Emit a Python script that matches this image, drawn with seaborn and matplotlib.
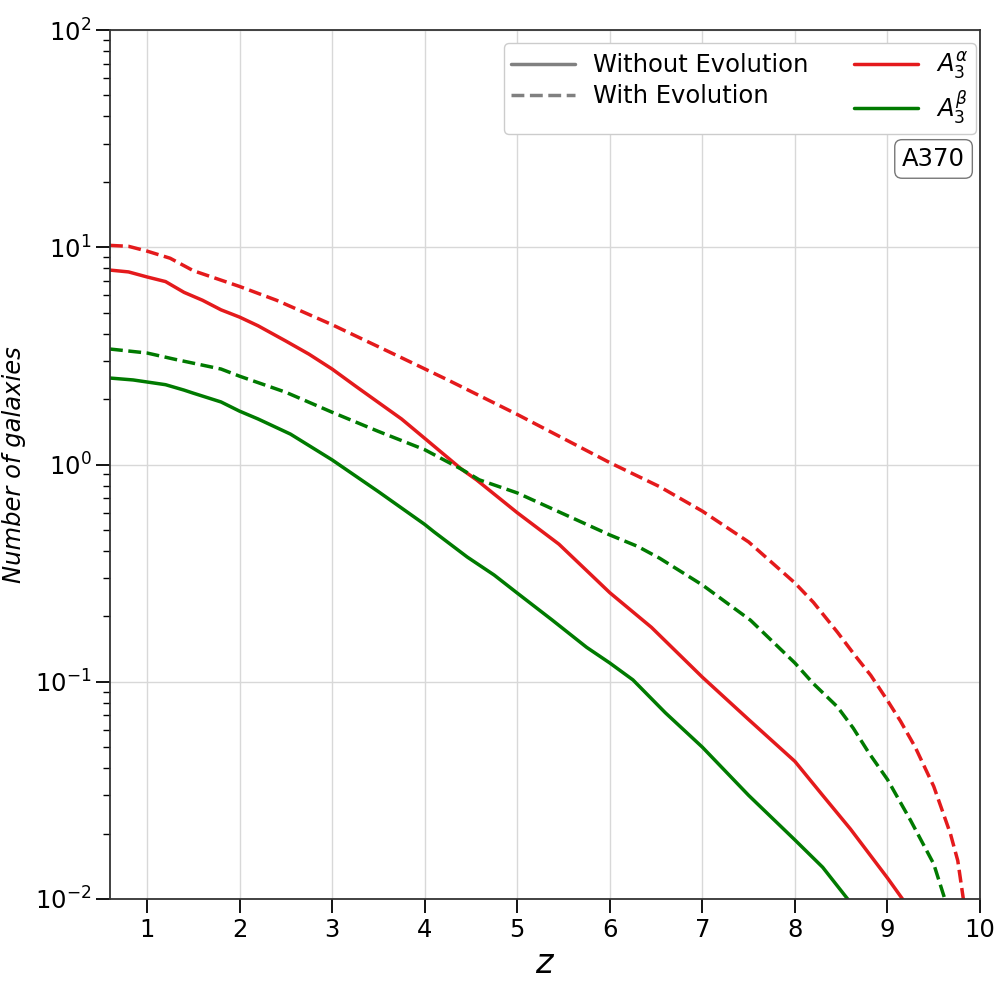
import pandas as pd
import matplotlib
matplotlib.use("Agg")
import matplotlib.pyplot as plt
from matplotlib.lines import Line2D
from matplotlib.ticker import LogLocator, NullFormatter
import seaborn as sns

# values
z_alpha = [0.6, 0.8, 1.0, 1.2, 1.4, 1.6, 1.8, 2.0, 2.2, 2.5, 2.75, 3.0, 3.25, 3.5,
           3.75, 4.0, 4.4, 4.56, 5.0, 5.45, 5.8, 6.0, 6.45, 7.0, 7.5, 8.0, 8.3, 8.6,
           9.0, 9.2]
n_alpha = [7.85, 7.7, 7.3, 6.95, 6.2, 5.7, 5.15, 4.77, 4.35, 3.7, 3.22, 2.75, 2.3, 1.93,
           1.62, 1.32, 0.95, 0.85, 0.60, 0.43, 0.31, 0.257, 0.178, 0.105, 0.067, 0.043,
           0.030, 0.021, 0.0125, 0.0095]

z_alpha_ev = [0.6, 0.8, 1.0, 1.25, 1.5, 2.0, 2.4, 3.0, 3.75, 4.25, 5.0, 6.0, 6.54, 7.0,
              7.5, 8.0, 8.2, 8.46, 8.65, 8.82, 9.0, 9.14, 9.3, 9.5, 9.68, 9.76, 9.82,
              9.85]
n_alpha_ev = [10.2, 10.1, 9.6, 8.9, 7.8, 6.6, 5.7, 4.4, 3.1, 2.45, 1.70, 1.02, 0.79, 0.61,
              0.44, 0.285, 0.232, 0.169, 0.132, 0.107, 0.082, 0.066, 0.050, 0.033, 0.020,
              0.015, 0.010, 0.008]

z_beta = [0.6, 0.85, 1.2, 1.4, 1.5, 1.8, 2.0, 2.2, 2.55, 3.0, 3.5, 4.0, 4.1, 4.46,
          4.75, 5.0, 5.38, 5.75, 6.0, 6.25, 6.6, 7.0, 7.5, 8.0, 8.3, 8.57, 8.6]
n_beta = [2.50, 2.45, 2.33, 2.2, 2.13, 1.94, 1.76, 1.62, 1.38, 1.05, 0.75, 0.53, 0.49, 0.375,
          0.31, 0.256, 0.192, 0.144, 0.122, 0.102, 0.072, 0.050, 0.030, 0.0187, 0.014,
          0.010, 0.0096]

z_beta_ev = [0.6, 1.0, 1.3, 1.8, 2.0, 2.5, 3.0, 3.5, 4.0, 4.4, 4.59, 5.0, 6.0, 6.3, 6.54,
             7.0, 7.52, 8.0, 8.2, 8.46, 8.63, 8.8, 9.0, 9.25, 9.5, 9.62, 9.65]
n_beta_ev = [3.40, 3.26, 3.05, 2.75, 2.55, 2.15, 1.74, 1.42, 1.17, 0.95, 0.85, 0.74, 0.474,
             0.42, 0.37, 0.279, 0.192, 0.122, 0.098, 0.0766, 0.0612, 0.047, 0.0355, 0.023,
             0.0145, 0.010, 0.0092]

RED = '#e41a1c'
GREEN = '#007a00'
FS = 17.5


def frame(z, n, model, evo):
    return pd.DataFrame({'z': z, 'N': n, 'model': model, 'evolution': evo})


df = pd.concat([
    frame(z_alpha, n_alpha, 'alpha', 'without'),
    frame(z_alpha_ev, n_alpha_ev, 'alpha', 'with'),
    frame(z_beta, n_beta, 'beta', 'without'),
    frame(z_beta_ev, n_beta_ev, 'beta', 'with'),
], ignore_index=True)

sns.set_style("ticks")
plt.rcParams['font.family'] = ['DejaVu Sans']
plt.rcParams['text.color'] = 'black'
plt.rcParams['axes.labelcolor'] = 'black'
plt.rcParams['xtick.color'] = 'black'
plt.rcParams['ytick.color'] = 'black'

fig = plt.figure(figsize=(10, 10), dpi=100)
ax = fig.add_axes([0.11, 0.101, 0.87, 0.869])

sns.lineplot(data=df, x='z', y='N', hue='model', style='evolution',
             palette={'alpha': RED, 'beta': GREEN},
             dashes={'without': '', 'with': (3.7, 1.6)},
             style_order=['without', 'with'], estimator=None, sort=False,
             linewidth=2.5, legend=False, ax=ax)

ax.set_yscale('log')
ax.set_xlim(0.6, 10)
ax.set_ylim(1e-2, 1e2)
ax.set_xticks(range(1, 11))
ax.yaxis.set_minor_locator(LogLocator(base=10, subs=range(2, 10), numticks=20))
ax.yaxis.set_minor_formatter(NullFormatter())
ax.grid(True, which='major', color='#d8d8d8', linewidth=1)
ax.set_axisbelow(True)

for s in ax.spines.values():
    s.set_color('#333333')
    s.set_linewidth(1.3)
ax.tick_params(which='major', length=10, width=1.3, labelsize=FS)
ax.tick_params(which='minor', length=5, width=1.0)

ax.set_xlabel('$z$', fontsize=24)
ax.set_ylabel('Number of galaxies', fontsize=FS, style='italic', labelpad=6)

handles = [
    Line2D([], [], color='gray', lw=2.5, ls='-'),
    Line2D([], [], color='gray', lw=2.5, ls='--'),
    Line2D([], [], color=RED, lw=2.5),
    Line2D([], [], color=GREEN, lw=2.5),
]
labels = ['Without Evolution', 'With Evolution', r'$A_3^{\alpha}$', r'$A_3^{\beta}$']
ax.legend(handles, labels, ncol=2, loc='upper right', bbox_to_anchor=(0.995, 0.985),
          borderaxespad=0, fontsize=FS, frameon=True, fancybox=True,
          edgecolor='#cccccc', framealpha=1, columnspacing=1.9,
          handlelength=2.6, handletextpad=0.75, labelspacing=0.3, borderpad=0.3)

ax.text(0.9466, 0.8516, 'A370', transform=ax.transAxes, ha='center', va='center',
        fontsize=FS,
        bbox=dict(boxstyle='round,pad=0.3', facecolor='white', edgecolor='#777777'))

fig.savefig('out.png', dpi=100)
